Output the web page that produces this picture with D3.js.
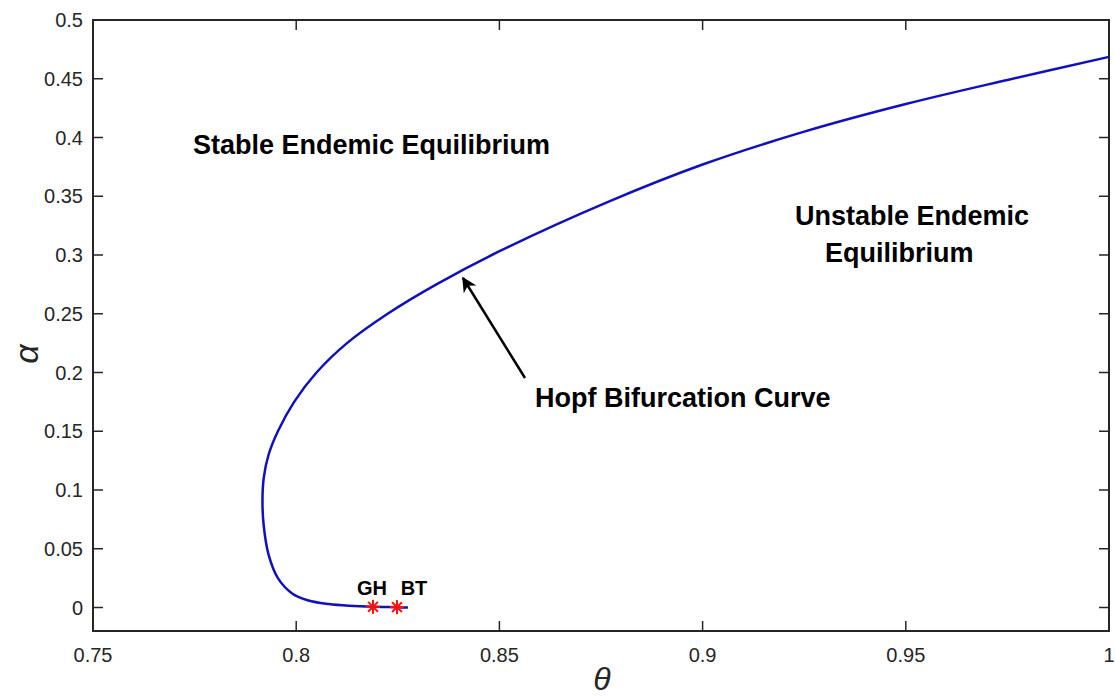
<!DOCTYPE html>
<meta charset="utf-8">
<style>
  body { margin: 0; background: #fff; }
  text { font-family: Arial, "Liberation Sans", sans-serif; }
</style>
<svg width="1115" height="696"></svg>
<script src="https://d3js.org/d3.v7.min.js"></script>
<script>
// Hopf curve (theta, alpha), from the BT end round the nose to the top
var theta = [0.8275, 0.8248, 0.8189, 0.8130, 0.8080, 0.8030, 0.7990, 0.7955, 0.7932, 0.7920,
             0.7917, 0.7920, 0.7932, 0.7955, 0.7995, 0.8050, 0.8125, 0.8225, 0.8345, 0.8499,
             0.8766, 0.9000, 0.9250, 0.9500, 0.9750, 1.0]
var alpha = [0.0, 0.0003, 0.0006, 0.0015, 0.003, 0.006, 0.012, 0.025, 0.045, 0.07,
             0.09, 0.11, 0.13, 0.15, 0.175, 0.2, 0.225, 0.25, 0.275, 0.303,
             0.345, 0.377, 0.405, 0.4285, 0.449, 0.4686]

var pointNames = ['GH', 'BT']
var pointTheta = [0.8189, 0.8248]
var pointAlpha = [0.0006, 0.0003]

var xTicks = [0.75, 0.8, 0.85, 0.9, 0.95, 1]
var yTicks = [0, 0.05, 0.1, 0.15, 0.2, 0.25, 0.3, 0.35, 0.4, 0.45, 0.5]

var svg = d3.select('svg')
var plotLeft = 93, plotRight = 1109, plotTop = 20, plotBottom = 631

var x = d3.scaleLinear().domain([0.75, 1]).range([plotLeft, plotRight])
var y = d3.scaleLinear().domain([-0.02, 0.5]).range([plotBottom, plotTop])

var axisColor = '#262626'

// ticks on all four sides, pointing inward
var g = svg.append('g')
xTicks.forEach(function (t) {
  g.append('line').attr('x1', x(t)).attr('x2', x(t)).attr('y1', plotBottom).attr('y2', plotBottom - 10)
    .attr('stroke', axisColor).attr('stroke-width', 1.5)
  g.append('line').attr('x1', x(t)).attr('x2', x(t)).attr('y1', plotTop).attr('y2', plotTop + 10)
    .attr('stroke', axisColor).attr('stroke-width', 1.5)
  g.append('text').attr('x', x(t)).attr('y', 662).attr('text-anchor', 'middle')
    .attr('font-size', 20).attr('fill', axisColor).text(d3.format('')(t))
})
yTicks.forEach(function (t) {
  g.append('line').attr('x1', plotLeft).attr('x2', plotLeft + 10).attr('y1', y(t)).attr('y2', y(t))
    .attr('stroke', axisColor).attr('stroke-width', 1.5)
  g.append('line').attr('x1', plotRight).attr('x2', plotRight - 10).attr('y1', y(t)).attr('y2', y(t))
    .attr('stroke', axisColor).attr('stroke-width', 1.5)
  g.append('text').attr('x', 83).attr('y', y(t) + 7).attr('text-anchor', 'end')
    .attr('font-size', 20).attr('fill', axisColor).text(d3.format('')(t))
})
g.append('rect').attr('x', plotLeft).attr('y', plotTop)
  .attr('width', plotRight - plotLeft).attr('height', plotBottom - plotTop)
  .attr('fill', 'none').attr('stroke', axisColor).attr('stroke-width', 2)

// curve
var line = d3.line()
  .x(function (i) { return x(theta[i]) })
  .y(function (i) { return y(alpha[i]) })
  .curve(d3.curveCatmullRom.alpha(0.5))

svg.append('path').attr('d', line(d3.range(theta.length)))
  .attr('fill', 'none').attr('stroke', '#1010c0').attr('stroke-width', 2.5)

// red star markers
pointNames.forEach(function (name, i) {
  var cx = x(pointTheta[i]), cy = y(pointAlpha[i]), r = 7
  var star = svg.append('g').attr('stroke', '#ff1010').attr('stroke-width', 2)
  star.append('line').attr('x1', cx - r).attr('x2', cx + r).attr('y1', cy).attr('y2', cy)
  star.append('line').attr('x1', cx).attr('x2', cx).attr('y1', cy - r).attr('y2', cy + r)
  star.append('line').attr('x1', cx - r * 0.7).attr('x2', cx + r * 0.7).attr('y1', cy - r * 0.7).attr('y2', cy + r * 0.7)
  star.append('line').attr('x1', cx - r * 0.7).attr('x2', cx + r * 0.7).attr('y1', cy + r * 0.7).attr('y2', cy - r * 0.7)
})
svg.append('text').attr('x', 372).attr('y', 595).attr('text-anchor', 'middle')
  .attr('font-size', 20).attr('font-weight', 'bold').text('GH')
svg.append('text').attr('x', 414).attr('y', 595).attr('text-anchor', 'middle')
  .attr('font-size', 20).attr('font-weight', 'bold').text('BT')

// region annotations
svg.append('text').attr('x', 193).attr('y', 154).attr('font-size', 27).attr('font-weight', 'bold')
  .text('Stable Endemic Equilibrium')
svg.append('text').attr('x', 795).attr('y', 225).attr('font-size', 27).attr('font-weight', 'bold')
  .text('Unstable Endemic')
svg.append('text').attr('x', 825).attr('y', 262).attr('font-size', 27).attr('font-weight', 'bold')
  .text('Equilibrium')
svg.append('text').attr('x', 535).attr('y', 407).attr('font-size', 27).attr('font-weight', 'bold')
  .text('Hopf Bifurcation Curve')

// arrow
svg.append('defs').append('marker').attr('id', 'head')
  .attr('viewBox', '0 0 10 10').attr('refX', 9).attr('refY', 5)
  .attr('markerWidth', 6.5).attr('markerHeight', 6).attr('orient', 'auto')
  .append('path').attr('d', 'M0,0 L10,5 L0,10 L3,5 Z').attr('fill', '#000')
svg.append('line').attr('x1', 525).attr('y1', 378).attr('x2', 463).attr('y2', 278)
  .attr('stroke', '#000').attr('stroke-width', 2.5).attr('marker-end', 'url(#head)')

// axis labels
svg.append('text').attr('x', 602).attr('y', 690).attr('text-anchor', 'middle')
  .attr('font-family', '"Liberation Serif", "Times New Roman", serif').attr('font-style', 'italic')
  .attr('font-size', 32).attr('fill', axisColor).text('θ')
svg.append('text').attr('transform', 'translate(38,354) rotate(-90)').attr('text-anchor', 'middle')
  .attr('font-family', '"Liberation Serif", "Times New Roman", serif').attr('font-style', 'italic')
  .attr('font-size', 34).attr('fill', axisColor).text('α')
</script>
